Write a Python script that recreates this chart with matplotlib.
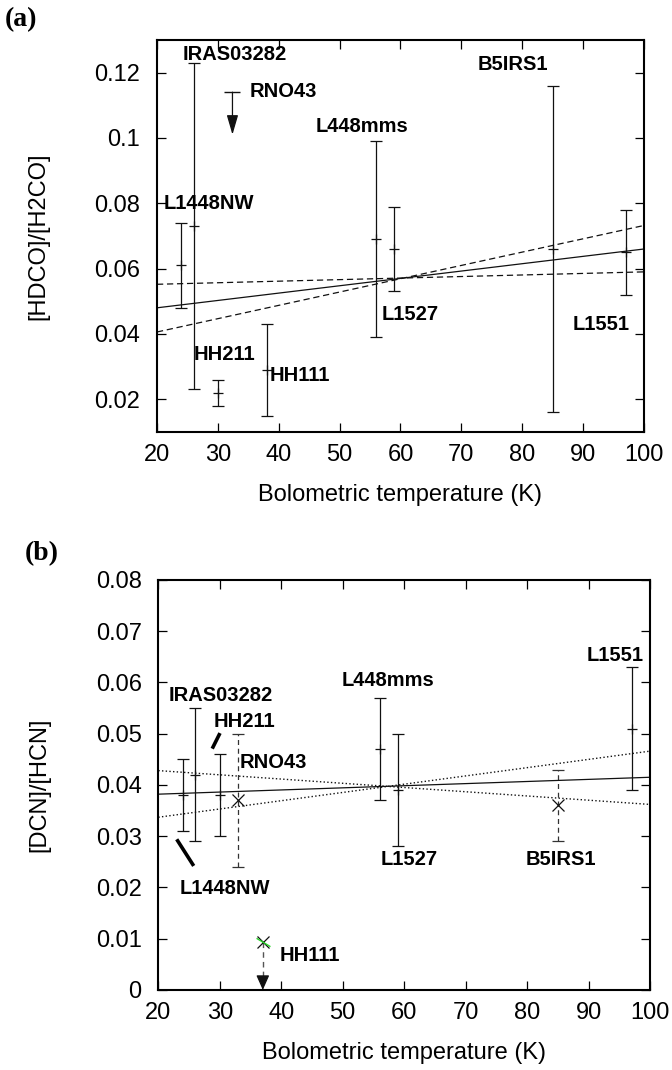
import numpy as np
import matplotlib
matplotlib.use('Agg')
import matplotlib.pyplot as plt
from matplotlib.path import Path

plt.rcParams['font.family'] = ['Liberation Sans', 'DejaVu Sans']

# ---- panel (a): [HDCO]/[H2CO] ----
a_names = ['L1448NW', 'IRAS03282', 'HH211', 'HH111', 'L448mms', 'L1527', 'B5IRS1', 'L1551']
a_tbol = [24, 26, 30, 38, 56, 59, 85, 97]
a_ratio = [0.061, 0.073, 0.022, 0.029, 0.069, 0.066, 0.066, 0.065]
a_err = [0.013, 0.050, 0.004, 0.014, 0.030, 0.013, 0.050, 0.013]
a_ul_tbol = [32.4]          # RNO43 upper limit
a_ul_val = [0.114]
a_ul_tip = [0.101]
a_fit_x = [20, 100]
a_fit = [0.048, 0.066]
a_fit_hi = [0.0406, 0.0732]
a_fit_lo = [0.0552, 0.059]
a_lab = ['IRAS03282', 'RNO43', 'L448mms', 'L1448NW', 'B5IRS1', 'L1527', 'L1551', 'HH211', 'HH111']
a_lab_x = [32.8, 35.3, 46.1, 21.15, 78.4, 56.9, 97.6, 26.0, 38.45]
a_lab_y = [0.1255, 0.1142, 0.1035, 0.080, 0.1224, 0.0458, 0.0428, 0.0336, 0.0272]
a_lab_ha = ['center', 'left', 'left', 'left', 'center', 'left', 'right', 'left', 'left']

# ---- panel (b): [DCN]/[HCN] ----
b_names = ['L1448NW', 'IRAS03282', 'HH211', 'L448mms', 'L1527', 'L1551']
b_tbol = [24, 26, 30, 56, 59, 97]
b_ratio = [0.038, 0.042, 0.038, 0.047, 0.039, 0.051]
b_err = [0.007, 0.013, 0.008, 0.010, 0.011, 0.012]
b_x_tbol = [33, 85]         # RNO43, B5IRS1 (crosses, dashed bars)
b_x_ratio = [0.037, 0.036]
b_x_err = [0.013, 0.007]
b_ul_tbol = [37]            # HH111 upper limit
b_ul_val = [0.0094]
b_ul_tip = [0.0]
b_fit_x = [20, 100]
b_fit = [0.0382, 0.0415]
b_fit_hi = [0.0337, 0.0466]
b_fit_lo = [0.0428, 0.0362]
b_lab = ['IRAS03282', 'HH211', 'RNO43', 'L448mms', 'L1551', 'L1527', 'B5IRS1', 'L1448NW', 'HH111']
b_lab_x = [21.6, 28.95, 33.2, 49.8, 99.0, 56.2, 79.7, 23.4, 39.8]
b_lab_y = [0.0574, 0.0524, 0.0444, 0.0604, 0.0652, 0.0254, 0.0254, 0.0197, 0.0068]
b_lab_ha = ['left', 'left', 'left', 'left', 'right', 'left', 'left', 'left', 'left']
b_leader_x = [[28.9, 29.9], [23.15, 25.6]]
b_leader_y = [[0.0474, 0.0498], [0.0291, 0.0245]]

fig = plt.figure(figsize=(6.72, 10.7), dpi=100)
ax1 = fig.add_axes([0.2336, 0.5963, 0.7247, 0.3664])
ax2 = fig.add_axes([0.2356, 0.0748, 0.7317, 0.3832])


def style(ax, ylim, yticks, yfmt, ylabel):
    ax.set_xlim(20, 100)
    ax.set_ylim(*ylim)
    ax.set_xticks(range(20, 101, 10))
    ax.set_yticks(yticks)
    ax.set_yticklabels([yfmt(v) for v in yticks])
    ax.tick_params(direction='in', length=6.5, width=0.9, top=True, right=True,
                   labelsize=17)
    ax.tick_params(axis='x', pad=9)
    ax.tick_params(axis='y', pad=12)
    for s in ax.spines.values():
        s.set_linewidth(1.5)
    ax.set_xlabel('Bolometric temperature (K)', fontsize=17)
    ax.set_ylabel(ylabel, fontsize=17)
    h = ax.get_position().height * 1070
    w = ax.get_position().width * 672
    ax.xaxis.label.set_va('center')
    ax.xaxis.set_label_coords(0.5, -63 / h)
    ax.yaxis.label.set_va('center')
    ax.yaxis.set_label_coords(-119 / w, 0.5)


def fmt(v):
    s = ('%.2f' % v).rstrip('0')
    return s if s != '0.' else '0'


# panel (a)
ax1.errorbar(a_tbol, a_ratio, yerr=a_err, fmt='+', color='#111', ms=7, mew=0.9,
             elinewidth=0.9, capsize=4, capthick=0.9)
for x, v, t in zip(a_ul_tbol, a_ul_val, a_ul_tip):
    ax1.plot([x], [v], marker='_', ms=11, mew=1.0, color='#111')
    ax1.annotate('', xy=(x, t), xytext=(x, v),
                 arrowprops=dict(arrowstyle='-|>,head_length=1.2,head_width=0.35',
                                 color='#111', lw=0.9, shrinkA=0, shrinkB=0))
ax1.plot(a_fit_x, a_fit, '-', color='#111', lw=0.9)
ax1.plot(a_fit_x, a_fit_hi, '--', color='#111', lw=0.9, dashes=(5, 3))
ax1.plot(a_fit_x, a_fit_lo, '--', color='#111', lw=0.9, dashes=(5, 3))
for t, x, y, ha in zip(a_lab, a_lab_x, a_lab_y, a_lab_ha):
    ax1.text(x, y, t, ha=ha, va='center', fontsize=14.5, fontweight='bold')
style(ax1, (0.01, 0.13), [0.02, 0.04, 0.06, 0.08, 0.1, 0.12], fmt, '[HDCO]/[H2CO]')

# panel (b)
ax2.errorbar(b_tbol, b_ratio, yerr=b_err, fmt='+', color='#111', ms=7, mew=0.9,
             elinewidth=0.9, capsize=4, capthick=0.9)
eb = ax2.errorbar(b_x_tbol, b_x_ratio, yerr=b_x_err, fmt='x', color='#111', ms=8,
                  mew=0.9, elinewidth=0.9, capsize=4, capthick=0.9, ecolor='#333')
eb[2][0].set_linestyle((0, (4, 3)))
for x, v, t in zip(b_ul_tbol, b_ul_val, b_ul_tip):
    ax2.plot([x, x], [v, t + 0.002], linestyle=(0, (4, 3)), color='#555', lw=1.0)
    ax2.annotate('', xy=(x, t), xytext=(x, t + 0.0025),
                 arrowprops=dict(arrowstyle='-|>,head_length=0.9,head_width=0.4',
                                 color='#111', lw=0.9, shrinkA=0, shrinkB=0))
    ax2.plot([x], [v], marker='x', ms=8, mew=0.9, color='#111')
    ax2.plot([x], [v], marker=Path([(-1, 0.6), (1, -0.6)], [Path.MOVETO, Path.LINETO]),
             ms=10, mew=1.0, color='#2ad42a')
ax2.plot(b_fit_x, b_fit, '-', color='#111', lw=0.9)
ax2.plot(b_fit_x, b_fit_hi, ':', color='#111', lw=1.0)
ax2.plot(b_fit_x, b_fit_lo, ':', color='#111', lw=1.0)
for lx, ly in zip(b_leader_x, b_leader_y):
    ax2.plot(lx, ly, '-', color='black', lw=2.6)
for t, x, y, ha in zip(b_lab, b_lab_x, b_lab_y, b_lab_ha):
    ax2.text(x, y, t, ha=ha, va='center', fontsize=14.5, fontweight='bold')
style(ax2, (0, 0.08), [0, 0.01, 0.02, 0.03, 0.04, 0.05, 0.06, 0.07, 0.08], fmt, '[DCN]/[HCN]')

fig.text(0.007, 0.982, '(a)', fontsize=20, fontweight='bold', family='Liberation Serif', va='center')
fig.text(0.037, 0.483, '(b)', fontsize=20, fontweight='bold', family='Liberation Serif', va='center')

fig.savefig('out.png', dpi=100)
